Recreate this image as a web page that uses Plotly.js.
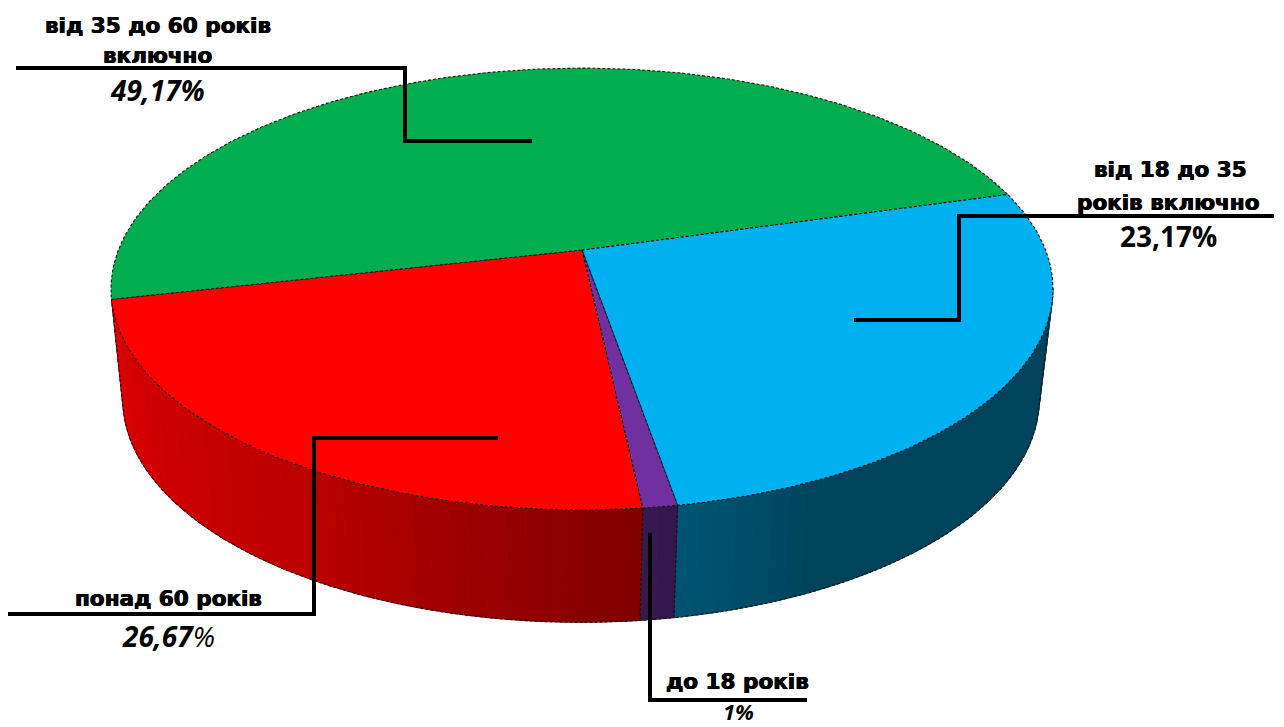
<!DOCTYPE html>
<html>
<head>
<meta charset="utf-8">
<script src="https://cdn.plot.ly/plotly-3.0.1.min.js"></script>
<style>html,body{margin:0;padding:0;background:#fff}#chart{width:1284px;height:727px}</style>
</head>
<body>
<div id="chart"></div>
<script>
// Slices clockwise from the upper right, as the picture draws them (shares)
const sliceNames = ['blue', 'purple', 'red', 'green'];
const sliceValues = [26.67, 1, 23.17, 49.17];
const sliceColors = ['#00B0F0', '#7030A0', '#FF0000', '#00AD4F'];
const sideColors = ['#00B0F0', '#7030A0', '#FF0000'];

// Printed labels
const labelLines = ['від 35 до 60 років', 'включно', 'від 18 до 35', 'років включно', 'понад 60 років', 'до 18 років'];
const percentTexts = ['<b><i>49,17%</i></b>', '<b>23,17%</b>', '<b><i>26,67</i></b><i>%</i>', '<b><i>1%</i></b>'];

// Side shading against angle
const shadeAngles = [10, 65, 72, 84, 100, 110, 120, 140, 160, 170];
const shadeLevels = [0.38, 0.385, 0.43, 0.5, 0.6, 0.67, 0.73, 0.79, 0.85, 0.87];

// Perspective of the two discs
const topDisc = {cx: 582, cy: 250, A: 463.6, B: 214, k: 0.1765};
const botDisc = {cx: 581, cy: 360, A: 451, B: 216, k: 0.1765};
const startAngle = -15.8;
const sideFrom = 10, sideTo = 170, bandStep = 2;

function project(d, deg) {
  const t = deg * Math.PI / 180, w = 1 - d.k * Math.sin(t);
  return [d.cx + d.A * Math.cos(t) / w, d.cy + d.B * Math.sin(t) / w];
}
function shadeAt(a) {
  if (a <= shadeAngles[0]) return shadeLevels[0];
  for (let i = 1; i < shadeAngles.length; i++) {
    if (a <= shadeAngles[i]) {
      const f = (a - shadeAngles[i - 1]) / (shadeAngles[i] - shadeAngles[i - 1]);
      return shadeLevels[i - 1] + f * (shadeLevels[i] - shadeLevels[i - 1]);
    }
  }
  return shadeLevels[shadeLevels.length - 1];
}
function shaded(hex, s) {
  const n = parseInt(hex.slice(1), 16);
  const c = [n >> 16, (n >> 8) & 255, n & 255].map(v => Math.round(v * s));
  return 'rgb(' + c.join(',') + ')';
}
function arc(d, a0, a1) {
  const pts = [], n = Math.max(2, Math.ceil(Math.abs(a1 - a0)));
  for (let i = 0; i <= n; i++) pts.push(project(d, a0 + (a1 - a0) * i / n));
  return pts;
}
function poly(pts, extra) {
  return Object.assign({type: 'scatter', mode: 'lines', x: pts.map(p => p[0]), y: pts.map(p => p[1]),
    hoverinfo: 'skip', showlegend: false}, extra);
}

const total = sliceValues.reduce((a, b) => a + b, 0);
const edges = [startAngle];
sliceValues.forEach(v => edges.push(edges[edges.length - 1] + v / total * 360));

const traces = [];
const outline = {color: '#141414', width: 1.1, dash: '3px,2px'};

// Side bands
sideColors.forEach((col, i) => {
  const a0 = Math.max(edges[i], sideFrom), a1 = Math.min(edges[i + 1], sideTo);
  for (let a = a0; a < a1; a += bandStep) {
    const b = Math.min(a + bandStep, a1);
    const s = shaded(col, shadeAt((a + b) / 2));
    const pts = arc(topDisc, a, b).concat(arc(botDisc, b, a));
    pts.push(pts[0]);
    traces.push(poly(pts, {fill: 'toself', fillcolor: s, line: {color: s, width: 1}}));
  }
  const edgePts = [project(topDisc, a0), project(botDisc, a0)].concat(arc(botDisc, a0, a1)).concat([project(topDisc, a1)]);
  traces.push(poly(edgePts, {line: outline}));
});

// Top of the pie
sliceColors.forEach((col, i) => {
  const pts = [[topDisc.cx, topDisc.cy]].concat(arc(topDisc, edges[i], edges[i + 1]));
  pts.push(pts[0]);
  traces.push(poly(pts, {fill: 'toself', fillcolor: col, line: outline}));
});

// Leader lines
const leaderX = [[16, 405, 405, 532], [1274, 959, 959, 854], [8, 314, 314, 498], [650, 650, 807]];
const leaderY = [[68, 68, 141, 141], [216, 216, 320, 320], [614, 614, 438, 438], [533, 700, 700]];
leaderX.forEach((xs, i) => traces.push({type: 'scatter', mode: 'lines', x: xs, y: leaderY[i],
  hoverinfo: 'skip', showlegend: false, line: {color: '#000', width: 4}}));

const labelX = [158, 157, 1170, 1168, 168, 737];
const labelY = [25, 55, 169, 202, 598, 681];
const pctX = [157, 1168, 168, 738];
const pctY = [90, 236, 636, 711];
const pctSize = [28, 28, 28, 22];
const labelFont = {family: 'DejaVu Sans', size: 21.5, color: '#000', weight: 700, shadow: '0.5px 0 0 #000, -0.5px 0 0 #000'};
const annotations = labelLines.map((t, i) => ({text: '<b>' + t + '</b>', x: labelX[i], y: labelY[i], xref: 'x', yref: 'y',
  showarrow: false, xanchor: 'center', yanchor: 'middle', font: labelFont}))
  .concat(percentTexts.map((t, i) => ({text: t, x: pctX[i], y: pctY[i], xref: 'x', yref: 'y',
  showarrow: false, xanchor: 'center', yanchor: 'middle', font: {family: 'Open Sans', size: pctSize[i], color: '#000'}})));

const layout = {
  width: 1284, height: 727, margin: {l: 0, r: 0, t: 0, b: 0},
  paper_bgcolor: '#fff', plot_bgcolor: '#fff', showlegend: false, hovermode: false,
  xaxis: {range: [0, 1284], visible: false, fixedrange: true},
  yaxis: {range: [727, 0], visible: false, fixedrange: true},
  annotations: annotations
};
Plotly.newPlot('chart', traces, layout, {displayModeBar: false, staticPlot: true});
</script>
</body>
</html>
